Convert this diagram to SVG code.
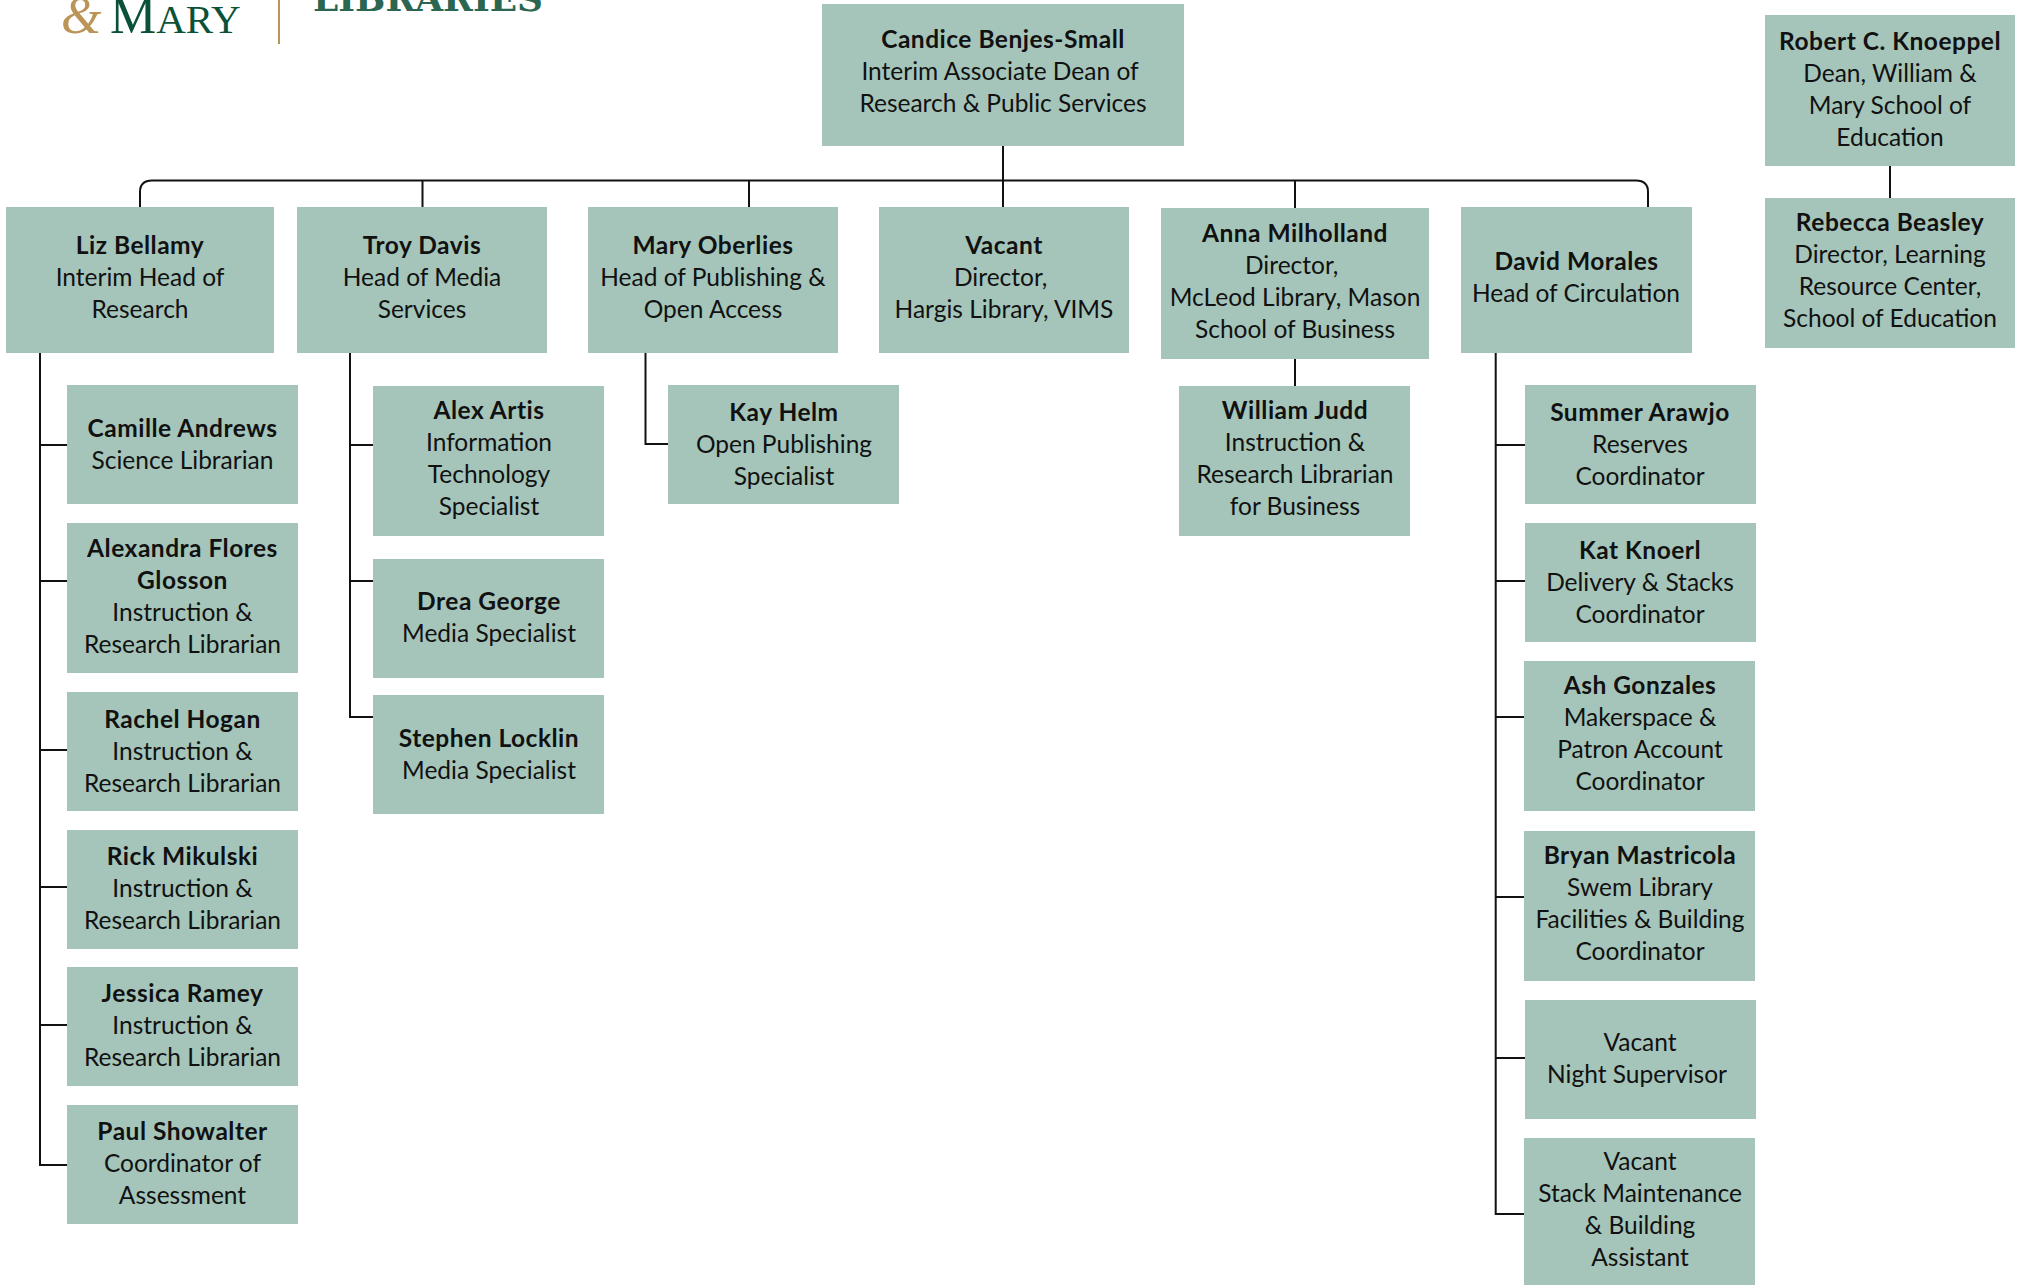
<svg xmlns="http://www.w3.org/2000/svg" width="2023" height="1285" viewBox="0 0 2023 1285">
<style>
.b{fill:#a5c5ba}
text{font-family:"Lato","Noto Sans",sans-serif;font-size:24.5px;fill:#111;text-anchor:middle}
.n{font-weight:700;letter-spacing:.5px}
.c{fill:none;stroke:#111;stroke-width:2}
.logo{text-anchor:start;font-family:"Liberation Serif",serif}
</style>
<rect width="2023" height="1285" fill="#fff"/>
<g id="logo">
<text class="logo" x="61" y="33" style="font-size:52px;font-style:italic;fill:#bb9457">&amp;</text>
<text class="logo" x="110" y="33" style="font-size:41px;fill:#0b5139"><tspan style="font-size:52px">M</tspan>ARY</text>
<rect x="278" y="0" width="2" height="44" fill="#bb9457"/>
<text class="logo" x="313" y="10.5" textLength="230" lengthAdjust="spacingAndGlyphs" style="font-family:'DejaVu Serif',serif;font-size:36px;font-weight:700;fill:#2b6650">LIBRARIES</text>
</g>
<g id="connectors" class="c">
<path class="c" d="M140 207V192Q140 180.5 152 180.5H1636Q1648 180.5 1648 192V207"/>
<path class="c" d="M422.5 180.5V207M749 180.5V207M1003 146V207M1295 180.5V208M1295 359V386M1890 166V198"/>
<path class="c" d="M40 353V1165H67M40 445H67M40 581H67M40 750H67M40 887H67M40 1025H67"/>
<path class="c" d="M350 353V717H373M350 445H373M350 581H373"/>
<path class="c" d="M645.5 353V444H668"/>
<path class="c" d="M1495.7 353V1214H1524M1495.7 445H1525M1495.7 581H1525M1495.7 717H1524M1495.7 897H1524M1495.7 1058H1525"/>
</g>
<g id="candice"><rect class="b" x="822" y="4" width="362" height="142"/><text><tspan class="n" x="1003" y="48">Candice Benjes-Small</tspan><tspan x="1000" y="80">Interim Associate Dean of</tspan><tspan x="1003" y="112">Research &amp; Public Services</tspan></text></g>
<g id="liz"><rect class="b" x="6" y="207" width="268" height="146"/><text><tspan class="n" x="140" y="254">Liz Bellamy</tspan><tspan x="140" y="286">Interim Head of</tspan><tspan x="140" y="318">Research</tspan></text></g>
<g id="troy"><rect class="b" x="297" y="207" width="250" height="146"/><text><tspan class="n" x="422" y="254">Troy Davis</tspan><tspan x="422" y="286">Head of Media</tspan><tspan x="422" y="318">Services</tspan></text></g>
<g id="mary"><rect class="b" x="588" y="207" width="250" height="146"/><text><tspan class="n" x="713" y="254">Mary Oberlies</tspan><tspan x="713" y="286">Head of Publishing &amp;</tspan><tspan x="713" y="318">Open Access</tspan></text></g>
<g id="vacant-director"><rect class="b" x="879" y="207" width="250" height="146"/><text><tspan class="n" x="1004" y="254">Vacant</tspan><tspan x="1000.7" y="286">Director,</tspan><tspan x="1004" y="318">Hargis Library, VIMS</tspan></text></g>
<g id="anna"><rect class="b" x="1161" y="208" width="268" height="151"/><text><tspan class="n" x="1295" y="242">Anna Milholland</tspan><tspan x="1291.7" y="274">Director,</tspan><tspan x="1295" y="306">McLeod Library, Mason</tspan><tspan x="1295" y="338">School of Business</tspan></text></g>
<g id="david"><rect class="b" x="1461" y="207" width="231" height="146"/><text><tspan class="n" x="1576.5" y="270">David Morales</tspan><tspan x="1576" y="302">Head of Circulation</tspan></text></g>
<g id="robert"><rect class="b" x="1765" y="15" width="250" height="151"/><text><tspan class="n" x="1890" y="50">Robert C. Knoeppel</tspan><tspan x="1890" y="82">Dean, William &amp;</tspan><tspan x="1890" y="114">Mary School of</tspan><tspan x="1890" y="146">Education</tspan></text></g>
<g id="rebecca"><rect class="b" x="1765" y="198" width="250" height="150"/><text><tspan class="n" x="1890" y="231">Rebecca Beasley</tspan><tspan x="1890" y="263">Director, Learning</tspan><tspan x="1890" y="295">Resource Center,</tspan><tspan x="1890" y="327">School of Education</tspan></text></g>
<g id="camille"><rect class="b" x="67" y="385" width="231" height="119"/><text><tspan class="n" x="182.5" y="437">Camille Andrews</tspan><tspan x="182.5" y="469">Science Librarian</tspan></text></g>
<g id="alexandra"><rect class="b" x="67" y="523" width="231" height="150"/><text><tspan class="n" x="182.5" y="557">Alexandra Flores</tspan><tspan class="n" x="182.5" y="589">Glosson</tspan><tspan x="182.5" y="621">Instruction &amp;</tspan><tspan x="182.5" y="653">Research Librarian</tspan></text></g>
<g id="rachel"><rect class="b" x="67" y="692" width="231" height="119"/><text><tspan class="n" x="182.5" y="728">Rachel Hogan</tspan><tspan x="182.5" y="760">Instruction &amp;</tspan><tspan x="182.5" y="792">Research Librarian</tspan></text></g>
<g id="rick"><rect class="b" x="67" y="830" width="231" height="119"/><text><tspan class="n" x="182.5" y="865">Rick Mikulski</tspan><tspan x="182.5" y="897">Instruction &amp;</tspan><tspan x="182.5" y="929">Research Librarian</tspan></text></g>
<g id="jessica"><rect class="b" x="67" y="967" width="231" height="119"/><text><tspan class="n" x="182.5" y="1002">Jessica Ramey</tspan><tspan x="182.5" y="1034">Instruction &amp;</tspan><tspan x="182.5" y="1066">Research Librarian</tspan></text></g>
<g id="paul"><rect class="b" x="67" y="1105" width="231" height="119"/><text><tspan class="n" x="182.5" y="1140">Paul Showalter</tspan><tspan x="182.5" y="1172">Coordinator of</tspan><tspan x="182.5" y="1204">Assessment</tspan></text></g>
<g id="alex"><rect class="b" x="373" y="386" width="231" height="150"/><text><tspan class="n" x="489" y="419">Alex Artis</tspan><tspan x="489" y="451">Information</tspan><tspan x="489" y="483">Technology</tspan><tspan x="489" y="515">Specialist</tspan></text></g>
<g id="drea"><rect class="b" x="373" y="559" width="231" height="119"/><text><tspan class="n" x="489" y="610">Drea George</tspan><tspan x="489" y="642">Media Specialist</tspan></text></g>
<g id="stephen"><rect class="b" x="373" y="695" width="231" height="119"/><text><tspan class="n" x="489" y="747">Stephen Locklin</tspan><tspan x="489" y="779">Media Specialist</tspan></text></g>
<g id="kay"><rect class="b" x="668" y="385" width="231" height="119"/><text><tspan class="n" x="784" y="421">Kay Helm</tspan><tspan x="784" y="453">Open Publishing</tspan><tspan x="784" y="485">Specialist</tspan></text></g>
<g id="william"><rect class="b" x="1179" y="386" width="231" height="150"/><text><tspan class="n" x="1295" y="419">William Judd</tspan><tspan x="1295" y="451">Instruction &amp;</tspan><tspan x="1295" y="483">Research Librarian</tspan><tspan x="1295" y="515">for Business</tspan></text></g>
<g id="summer"><rect class="b" x="1525" y="385" width="231" height="119"/><text><tspan class="n" x="1640" y="421">Summer Arawjo</tspan><tspan x="1640" y="453">Reserves</tspan><tspan x="1640" y="485">Coordinator</tspan></text></g>
<g id="kat"><rect class="b" x="1525" y="523" width="231" height="119"/><text><tspan class="n" x="1640" y="559">Kat Knoerl</tspan><tspan x="1640" y="591">Delivery &amp; Stacks</tspan><tspan x="1640" y="623">Coordinator</tspan></text></g>
<g id="ash"><rect class="b" x="1524" y="661" width="231" height="150"/><text><tspan class="n" x="1640" y="694">Ash Gonzales</tspan><tspan x="1640" y="726">Makerspace &amp;</tspan><tspan x="1640" y="758">Patron Account</tspan><tspan x="1640" y="790">Coordinator</tspan></text></g>
<g id="bryan"><rect class="b" x="1524" y="831" width="231" height="150"/><text><tspan class="n" x="1640" y="864">Bryan Mastricola</tspan><tspan x="1640" y="896">Swem Library</tspan><tspan x="1640" y="928">Facilities &amp; Building</tspan><tspan x="1640" y="960">Coordinator</tspan></text></g>
<g id="vacant-night"><rect class="b" x="1525" y="1000" width="231" height="119"/><text><tspan x="1640" y="1051">Vacant</tspan><tspan x="1637" y="1083">Night Supervisor</tspan></text></g>
<g id="vacant-stack"><rect class="b" x="1524" y="1138" width="231" height="150"/><text><tspan x="1640" y="1170">Vacant</tspan><tspan x="1640" y="1202">Stack Maintenance</tspan><tspan x="1640" y="1234">&amp; Building</tspan><tspan x="1640" y="1266">Assistant</tspan></text></g>
</svg>
